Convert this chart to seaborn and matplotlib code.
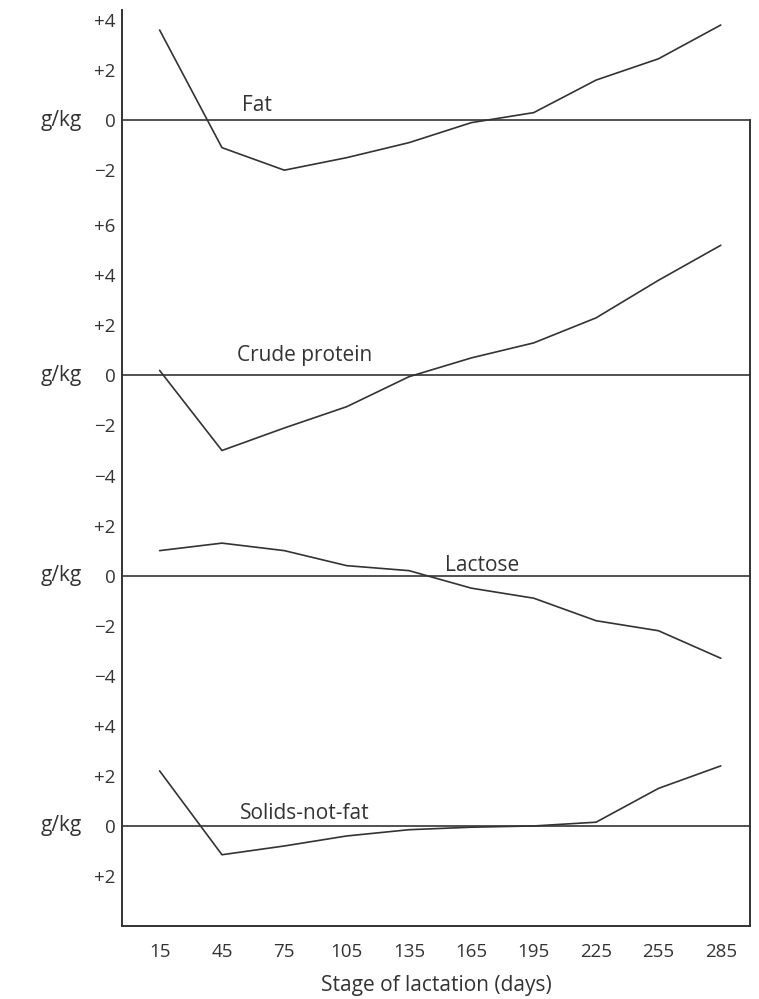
import matplotlib
matplotlib.use("Agg")
import matplotlib.pyplot as plt
import matplotlib.transforms as mtransforms
import pandas as pd
import seaborn as sns

# Stage of lactation (days)
days = [15, 45, 75, 105, 135, 165, 195, 225, 255, 285]

# deviation from lactation mean, g/kg
fat = [3.6, -1.1, -2.0, -1.5, -0.9, -0.1, 0.3, 1.6, 2.45, 3.8]
crude_protein = [0.2, -3.0, -2.1, -1.25, -0.05, 0.7, 1.3, 2.3, 3.8, 5.2]
lactose = [1.0, 1.3, 1.0, 0.4, 0.2, -0.5, -0.9, -1.8, -2.2, -3.3]
solids_not_fat = [2.2, -1.15, -0.8, -0.4, -0.15, -0.05, 0.0, 0.15, 1.5, 2.4]

panel_names = ["Fat", "Crude protein", "Lactose", "Solids-not-fat"]
panel_values = [fat, crude_protein, lactose, solids_not_fat]

# tick labels as printed in the original (including the "+2" below zero in the last panel)
panel_ticks = [[4, 2, 0, -2], [6, 4, 2, 0, -2, -4], [2, 0, -2, -4], [4, 2, 0, -2]]
panel_ticklabels = [
    ["+4", "+2", "0", "\u22122"],
    ["+6", "+4", "+2", "0", "\u22122", "\u22124"],
    ["+2", "0", "\u22122", "\u22124"],
    ["+4", "+2", "0", "+2"],
]
panel_ylims = [(-3.2, 4.4), (-5, 7), (-5, 3), (-4, 5)]
label_pos = [(62, 0.6), (85, 0.8), (170, 0.4), (85, 0.5)]

INK = "#333333"
FONT = ["Open Sans", "DejaVu Sans"]

sns.set_theme(style="white")
plt.rcParams["font.family"] = FONT

fig, axes = plt.subplots(
    4, 1, figsize=(7.59, 9.99), dpi=100, sharex=True,
    gridspec_kw={"height_ratios": [hi - lo for lo, hi in panel_ylims], "hspace": 0},
)
fig.subplots_adjust(left=0.161, right=0.988, top=0.99, bottom=0.073)

for i, ax in enumerate(axes):
    df = pd.DataFrame({"day": days, "value": panel_values[i]})
    sns.lineplot(data=df, x="day", y="value", ax=ax, color=INK, linewidth=1.2)
    ax.axhline(0, color=INK, linewidth=1.2)

    ax.set_ylim(*panel_ylims[i])
    ax.set_yticks(panel_ticks[i])
    ax.set_yticklabels(panel_ticklabels[i])
    ax.tick_params(axis="y", length=0, pad=5, labelsize=13.5, labelcolor=INK)
    ax.set_ylabel("")
    ax.set_xlabel("")

    for side in ["top", "bottom"]:
        ax.spines[side].set_visible(False)
    for side in ["left", "right"]:
        ax.spines[side].set_visible(True)
        ax.spines[side].set_color(INK)
        ax.spines[side].set_linewidth(1.4)

    tr = mtransforms.blended_transform_factory(ax.transAxes, ax.transData)
    ax.text(-0.097, 0, "g/kg", transform=tr, ha="center", va="center",
            fontsize=15, color=INK)

    lx, ly = label_pos[i]
    ax.text(lx, ly, panel_names[i], ha="center", va="center", fontsize=15, color=INK)

# the right-hand frame starts at the zero line of the top panel
axes[0].spines["right"].set_bounds(panel_ylims[0][0], 0)

last = axes[-1]
last.spines["bottom"].set_visible(True)
last.spines["bottom"].set_color(INK)
last.spines["bottom"].set_linewidth(1.4)
last.set_xlim(-3, 299)
last.set_xticks(days)
last.set_xticklabels([str(d) for d in days])
last.tick_params(axis="x", length=0, pad=12, labelsize=13.5, labelcolor=INK)
last.set_xlabel("Stage of lactation (days)", fontsize=15, color=INK, labelpad=10)
for ax in axes[:-1]:
    ax.tick_params(axis="x", labelbottom=False, length=0)

fig.savefig("out.png", dpi=100, facecolor="white")
